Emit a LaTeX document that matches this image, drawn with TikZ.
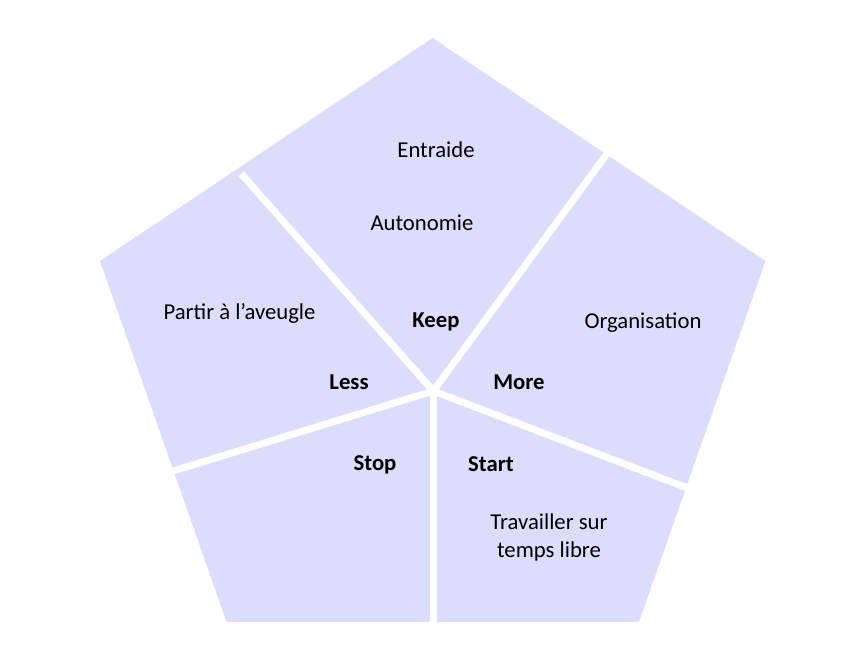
\documentclass[tikz,border=0pt]{standalone}
\usepackage{fontspec}
\setmainfont{Carlito}
\definecolor{piefill}{RGB}{220,221,252}
\begin{document}
\begin{tikzpicture}[x=1pt,y=-1pt,
  sep/.style={draw=white,line width=7pt,line cap=butt},
  lbl/.style={font=\fontsize{22.7}{28}\selectfont,text=black,inner sep=0pt,anchor=center},
  key/.style={lbl,font=\fontsize{22.7}{28}\selectfont\bfseries},
  multi/.style={lbl,align=center,font=\fontsize{22.7}{28}\selectfont}]
\useasboundingbox (0,0) rectangle (847,671);
\coordinate (T) at (432.5,38);
\coordinate (UR) at (765.5,261);
\coordinate (BR) at (639,622);
\coordinate (BL) at (226.5,622);
\coordinate (UL) at (100,261);
\fill[piefill] (T) -- (UR) -- (BR) -- (BL) -- (UL) -- cycle;
\coordinate (C) at (433.3,391);
\coordinate (eUL) at (241.3,174);
\coordinate (eUR) at (609,151);
\coordinate (eR) at (690,489);
\coordinate (eB) at (433.3,630);
\coordinate (eL) at (170,472);
\foreach \e in {eUL,eUR,eR,eB,eL} \draw[sep] (C) -- (\e);
\node[lbl] (entraide) at (436,150) {Entraide};
\node[lbl] (autonomie) at (422,223) {Autonomie};
\node[key] (keep) at (436,322) {Keep};
\node[lbl] (partir) at (239.5,313) {Partir à l’aveugle};
\node[key] (less) at (349,382) {Less};
\node[lbl] (orga) at (643,323) {Organisation};
\node[key] (more) at (519,382) {More};
\node[key] (stop) at (375,465) {Stop};
\node[key] (start) at (491,464) {Start};
\node[multi] (travail) at (549,537) {Travailler sur\\temps libre};
\end{tikzpicture}
\end{document}
